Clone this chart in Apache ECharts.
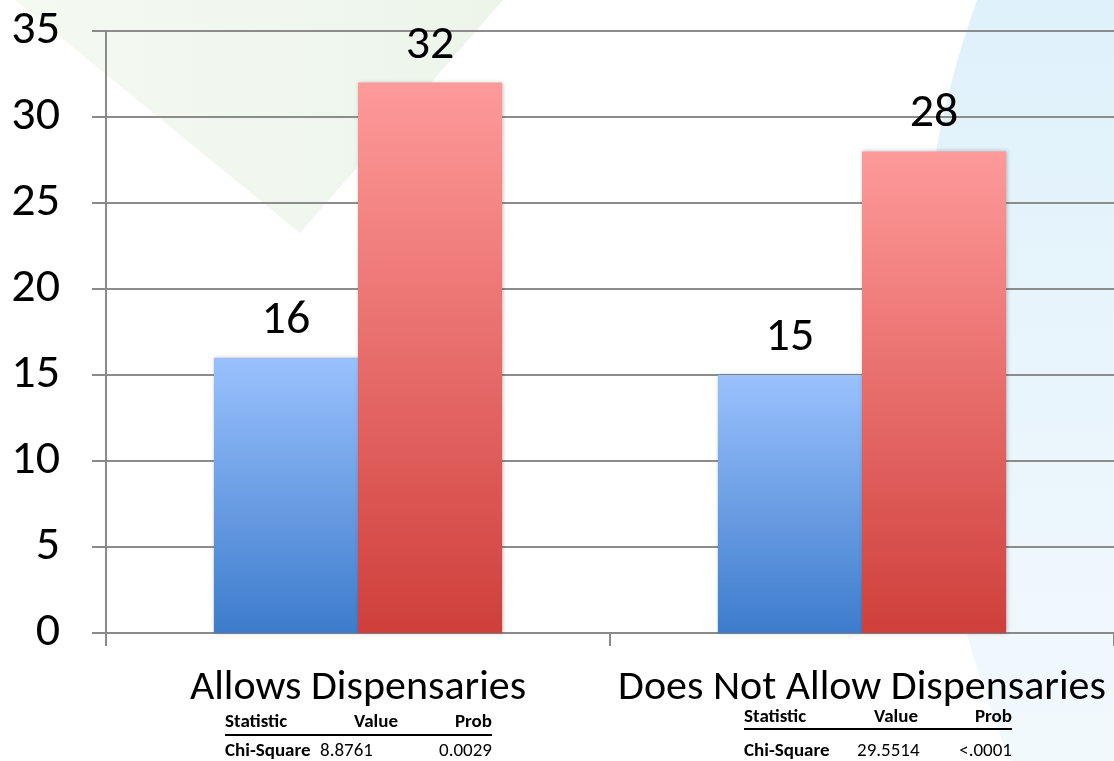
<!DOCTYPE html>
<html>
<head>
<meta charset="utf-8">
<script src="https://cdn.jsdelivr.net/npm/echarts@6/dist/echarts.min.js"></script>
<style>
html,body{margin:0;padding:0;background:#fff;}
#chart{width:1114px;height:761px;}
</style>
</head>
<body>
<div id="chart"></div>
<script>
// ---- data ----
const categories = ['Allows Dispensaries', 'Does Not Allow Dispensaries'];
const seriesA = [16, 15];   // blue
const seriesB = [32, 28];   // red
const yTicks = [0, 5, 10, 15, 20, 25, 30, 35];
const tableHeader = ['Statistic', 'Value', 'Prob'];
const tableStatNames = ['Chi-Square', 'Chi-Square'];
const tableValues = ['8.8761', '29.5514'];
const tableProbs = ['0.0029', '<.0001'];

const FONT = 'Carlito, Calibri, Lato, sans-serif';
const chart = echarts.init(document.getElementById('chart'));

function grad(top, bottom) {
  return new echarts.graphic.LinearGradient(0, 0, 0, 1, [
    {offset: 0, color: top}, {offset: 1, color: bottom}
  ]);
}

const option = {
  backgroundColor: '#ffffff',
  animation: false,
  grid: {left: 106, right: 0, top: 31, bottom: 128, containLabel: false},
  xAxis: {
    type: 'category',
    data: categories,
    boundaryGap: true,
    axisLine: {show: true, lineStyle: {color: '#8a8a8a', width: 2}},
    axisTick: {show: true, length: 13, lineStyle: {color: '#8a8a8a', width: 2}},
    axisLabel: {color: '#000', fontFamily: FONT, fontSize: 42, margin: 34, interval: 0}
  },
  yAxis: {
    type: 'value',
    min: yTicks[0],
    max: yTicks[yTicks.length - 1],
    interval: yTicks[1] - yTicks[0],
    axisLine: {show: true, lineStyle: {color: '#8a8a8a', width: 2}},
    axisTick: {show: true, length: 14, lineStyle: {color: '#8a8a8a', width: 2}},
    splitLine: {show: true, lineStyle: {color: '#8c8c8c', width: 2}},
    axisLabel: {color: '#000', fontFamily: FONT, fontSize: 48, margin: 46}
  },
  series: [
    {
      type: 'bar',
      data: seriesA,
      barWidth: '28.6%',
      barGap: '0%',
      itemStyle: {color: grad('#9ac1fd', '#3d7ccc'), shadowBlur: 4, shadowColor: 'rgba(0,0,0,0.25)', shadowOffsetX: 1},
      label: {show: true, position: 'top', distance: 13, color: '#000', fontFamily: FONT, fontSize: 48}
    },
    {
      type: 'bar',
      data: seriesB,
      barWidth: '28.6%',
      itemStyle: {color: grad('#fe9a9a', '#cf3f3b'), shadowBlur: 4, shadowColor: 'rgba(0,0,0,0.25)', shadowOffsetX: 1},
      label: {show: true, position: 'top', distance: 13, color: '#000', fontFamily: FONT, fontSize: 48}
    }
  ]
};
chart.setOption(option);

// ---- decorative background + stats tables ----
function quadPoints(p0, p1, p2, n) {
  const pts = [];
  for (let k = 0; k <= n; k++) {
    const t = k / n, u = 1 - t;
    pts.push([u * u * p0[0] + 2 * u * t * p1[0] + t * t * p2[0],
              u * u * p0[1] + 2 * u * t * p1[1] + t * t * p2[1]]);
  }
  return pts;
}
function buildGraphics() {
  const els = [];
  els.push({
    type: 'polygon', z: -10, silent: true,
    shape: {points: [[15, 0], [300, 233], [503, 0]]},
    style: {fill: new echarts.graphic.LinearGradient(0, 0, 1, 0, [
      {offset: 0, color: '#f4f9f2'}, {offset: 1, color: '#edf5eb'}
    ])}
  });
  const bluePts = quadPoints([977, 0], [850, 352], [1010, 761], 48);
  bluePts.push([1114, 761], [1114, 0]);
  els.push({
    type: 'polygon', z: -10, silent: true,
    shape: {points: bluePts},
    style: {fill: new echarts.graphic.LinearGradient(0, 0, 0, 1, [
      {offset: 0, color: '#dff1fb'}, {offset: 1, color: '#f2f9fd'}
    ])}
  });
  const tableLayouts = [
    {dx: -133, headY: 722, rowY: 751, lineY: 735, valX: 95, colV: 173, w: 267},
    {dx: -118, headY: 717, rowY: 751, lineY: 729, valX: 113, colV: 174, w: 268}
  ];
  categories.forEach((c, i) => {
    const cx = chart.convertToPixel({xAxisIndex: 0}, c);
    const L = tableLayouts[i];
    const x0 = cx + L.dx;
    const ts = {fontFamily: FONT, fontSize: 19, fill: '#000', verticalAlign: 'middle'};
    els.push({type: 'text', x: x0, y: L.headY, style: Object.assign({}, ts, {text: tableHeader[0], fontWeight: 'bold', align: 'left'})});
    els.push({type: 'text', x: x0 + L.colV, y: L.headY, style: Object.assign({}, ts, {text: tableHeader[1], fontWeight: 'bold', align: 'right'})});
    els.push({type: 'text', x: x0 + L.w, y: L.headY, style: Object.assign({}, ts, {text: tableHeader[2], fontWeight: 'bold', align: 'right'})});
    els.push({type: 'line', shape: {x1: x0, y1: L.lineY, x2: x0 + L.w, y2: L.lineY}, style: {stroke: '#000', lineWidth: 2}});
    els.push({type: 'text', x: x0, y: L.rowY, style: Object.assign({}, ts, {text: tableStatNames[i], fontWeight: 'bold', align: 'left'})});
    els.push({type: 'text', x: x0 + L.valX, y: L.rowY, style: Object.assign({}, ts, {text: tableValues[i], align: 'left'})});
    els.push({type: 'text', x: x0 + L.w, y: L.rowY, style: Object.assign({}, ts, {text: tableProbs[i], align: 'right'})});
  });
  chart.setOption({graphic: {elements: els}});
}
buildGraphics();
</script>
</body>
</html>
